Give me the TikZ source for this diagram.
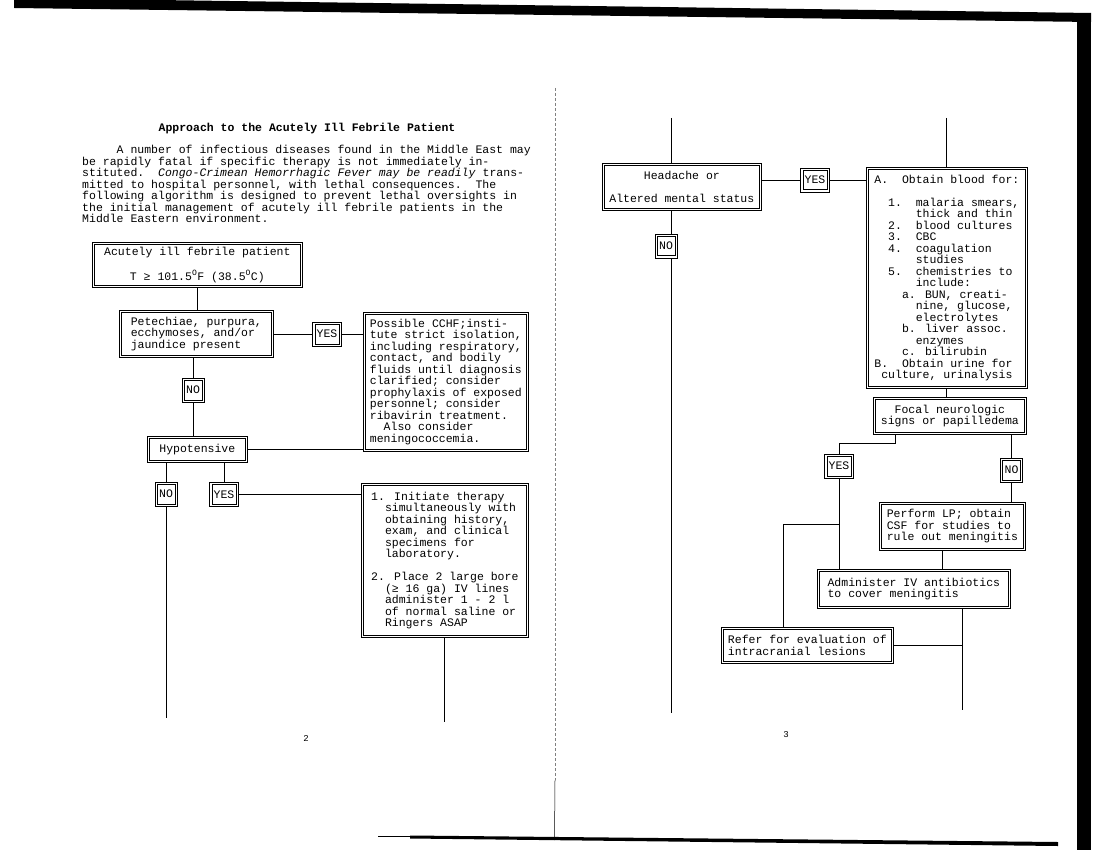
\documentclass[tikz,border=0pt]{standalone}
\usepackage{fontspec}
\setmainfont{Liberation Mono}
\newcommand{\chskip}[1]{\hspace*{#1\dimexpr.6em\relax}}

\begin{document}
\begin{tikzpicture}[x=1pt,y=-1pt,font=\fontsize{11.5}{11.5}\selectfont,
	frame/.style={draw,line width=.7pt,
		path picture={\draw[line width=.6pt] ([shift={(2.2pt,2.2pt)}]path picture bounding box.south west) rectangle ([shift={(-2.2pt,-2.2pt)}]path picture bounding box.north east);}},
	box/.style={frame,anchor=north west,inner sep=3pt},
	tag/.style={frame,minimum width=22pt,minimum height=24pt,inner xsep=4pt,inner ysep=2pt}]
	\useasboundingbox (0,0) rectangle (1094,850);

	% page edges
	\fill (14,-2) -- (1091,13) -- (1091,22) -- (14,8) -- cycle;
	\fill (1077,14) rectangle (1091,850);
	\draw[line width=.6pt] (378,836.5) -- (412,836.5);
	\fill (410,835.5) -- (1058,842) -- (1058,846) -- (410,838.5) -- cycle;
	\draw[gray,densely dashed,line width=.4pt] (555,88) -- (555,780);
	\draw[line width=.5pt] (555,780) -- (554.5,840);

	% page 2
	\node (title) at (307,129) {\textbf{Approach to the Acutely Ill Febrile Patient}};
	\node[anchor=north west,inner sep=0pt,align=left] (intro) at (82,145) {\chskip{5}A number of infectious diseases found in the Middle East may\\
be rapidly fatal if specific therapy is not immediately in-\\
stituted.\ \ \textit{Congo-Crimean Hemorrhagic Fever may be readily} trans-\\
mitted to hospital personnel, with lethal consequences.\ \ The\\
following algorithm is designed to prevent lethal oversights in\\
the initial management of acutely ill febrile patients in the\\
Middle Eastern environment.};

	\node[box,minimum width=210,minimum height=45,align=center] (fever) at (92,242)
	{Acutely ill febrile patient\\[11.5pt]T ≥ 101.5\textsuperscript{O}F (38.5\textsuperscript{O}C)};
	\node[box,minimum width=154,minimum height=47,align=left] (spots) at (119,310)
	{Petechiae, purpura,\\ecchymoses, and/or\\jaundice present};
	\node[tag] (yes1) at (327,334) {YES};
	\node[box,minimum width=165,minimum height=139,align=left] (cchf) at (363,312)
	{Possible CCHF;insti-\\tute strict isolation,\\including respiratory,\\contact, and bodily\\fluids until diagnosis\\clarified; consider\\prophylaxis of exposed\\personnel; consider\\ribavirin treatment.\\\chskip{2}Also consider\\meningococcemia.};
	\node[tag] (no1) at (193,390) {NO};
	\node[box,minimum width=100,minimum height=26,align=center] (hypo) at (147,436) {Hypotensive};
	\node[tag] (no2) at (166,494) {NO};
	\node[tag] (yes2) at (224,494.5) {YES};
	\node[box,minimum width=167,minimum height=154,align=left] (therapy) at (361,483)
	{1. Initiate therapy\\\chskip{2}simultaneously with\\\chskip{2}obtaining history,\\\chskip{2}exam, and clinical\\\chskip{2}specimens for\\\chskip{2}laboratory.\\[11.5pt]
2. Place 2 large bore\\\chskip{2}(≥ 16 ga) IV lines\\\chskip{2}administer 1 - 2 l\\\chskip{2}of normal saline or\\\chskip{2}Ringers ASAP};
	\coordinate (foot1) at (166,718);
	\coordinate (foot2) at (444,722);

	\draw (fever.south) -- (fever.south |- spots.north);
	\draw (spots.east |- yes1) -- (yes1.west);
	\draw (yes1.east) -- (yes1.east -| cchf.west);
	\draw (no1.north) -- (no1.north |- spots.south);
	\draw (no1.south) -- (no1.south |- hypo.north);
	\draw (hypo.east) -- (hypo.east -| cchf.west);
	\draw (no2.north) -- (no2.north |- hypo.south);
	\draw (yes2.north) -- (yes2.north |- hypo.south);
	\draw (no2.south) -- (no2.south |- foot1);
	\draw (yes2.east) -- (yes2.east -| therapy.west);
	\draw (foot2 |- therapy.south) -- (foot2);

	\node (pg2) at (306,738) {\fontsize{9}{9}\selectfont 2};

	% page 3
	\node[box,minimum width=159,minimum height=47,align=center] (head) at (602,163)
	{Headache or\\[11.5pt]Altered mental status};
	\node[tag] (yes3) at (815,180) {YES};
	\node[tag] (no3) at (666,246) {NO};
	\node[box,minimum width=161,minimum height=221,align=left] (blood) at (866,167)
	{A.\chskip{2}Obtain blood for:\\[11.5pt]
\chskip{2}1.\chskip{2}malaria smears,\\\chskip{6}thick and thin\\\chskip{2}2.\chskip{2}blood cultures\\\chskip{2}3.\chskip{2}CBC\\\chskip{2}4.\chskip{2}coagulation\\\chskip{6}studies\\\chskip{2}5.\chskip{2}chemistries to\\\chskip{6}include:\\
\chskip{4}a. BUN, creati-\\\chskip{6}nine, glucose,\\\chskip{6}electrolytes\\\chskip{4}b. liver assoc.\\\chskip{6}enzymes\\\chskip{4}c. bilirubin\\
B.\chskip{2}Obtain urine for\\\chskip{1}culture, urinalysis};
	\node[box,minimum width=153,minimum height=37,align=center] (focal) at (873,397)
	{Focal neurologic\\signs or papilledema};
	\node[tag] (yes4) at (839,466) {YES};
	\node[tag] (no4) at (1011.5,470) {NO};
	\node[box,minimum width=146,minimum height=48,align=left] (lp) at (879,502)
	{Perform LP; obtain\\CSF for studies to\\rule out meningitis};
	\node[box,minimum width=193,minimum height=39,align=left] (abx) at (817,569)
	{Administer IV antibiotics\\to cover meningitis};
	\node[box,minimum width=172,minimum height=36,align=left] (refer) at (721,627)
	{Refer for evaluation of\\intracranial lesions};
	\coordinate (top1) at (671,118);
	\coordinate (top2) at (946,118);
	\coordinate (foot3) at (671,713);
	\coordinate (foot4) at (962,710);
	\coordinate (bend) at (895,443);
	\coordinate (fork) at (783,524);

	\draw (top1) -- (top1 |- head.north);
	\draw (top1 |- head.south) -- (top1 |- no3.north);
	\draw (top1 |- no3.south) -- (foot3);
	\draw (head.east |- yes3) -- (yes3.west);
	\draw (yes3.east) -- (yes3.east -| blood.west);
	\draw (top2) -- (top2 |- blood.north);
	\draw (top2 |- blood.south) -- (top2 |- focal.north);
	\draw (bend |- focal.south) -- (bend) -| (yes4.north);
	\draw (no4.north) -- (no4.north |- focal.south);
	\draw (no4.south) -- (no4.south |- lp.north);
	\draw (yes4.south) -- (yes4.south |- abx.north);
	\draw (yes4.south |- fork) -- (fork) -- (fork |- refer.north);
	\draw ([xshift=-10pt]lp.south) -- ([xshift=-10pt]lp.south |- abx.north);
	\draw (foot4 |- abx.south) -- (foot4);
	\draw (refer.east) -- (refer.east -| foot4);

	\node (pg3) at (786,735) {\fontsize{9}{9}\selectfont 3};
\end{tikzpicture}
\end{document}
